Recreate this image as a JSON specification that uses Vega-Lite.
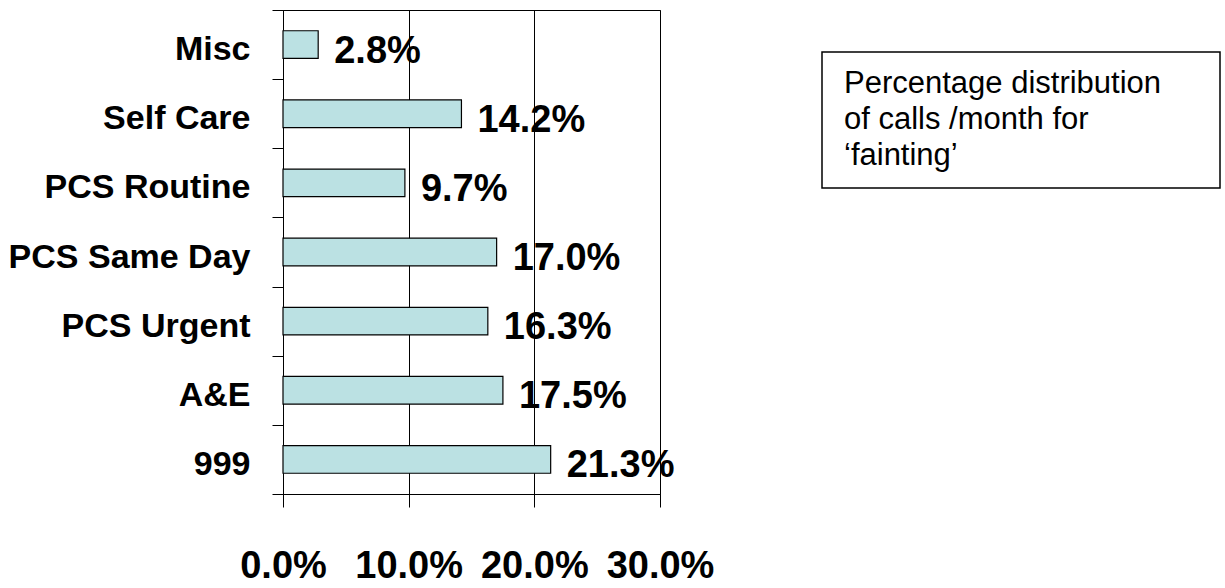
{
  "$schema": "https://vega.github.io/schema/vega-lite/v6.json",
  "background": "white",
  "padding": {"left": 7, "top": -18, "right": 0, "bottom": 0},
  "config": {
    "font": "Liberation Sans",
    "view": {"stroke": "black", "strokeWidth": 1}
  },
  "bounds": "flush",
  "spacing": 162,
  "hconcat": [
    {
      "width": 377,
      "height": 484,
      "data": {
        "values": [
          {"category": "Misc", "share": 0.028},
          {"category": "Self Care", "share": 0.142},
          {"category": "PCS Routine", "share": 0.097},
          {"category": "PCS Same Day", "share": 0.170},
          {"category": "PCS Urgent", "share": 0.163},
          {"category": "A&E", "share": 0.175},
          {"category": "999", "share": 0.213}
        ]
      },
      "encoding": {
        "y": {
          "field": "category",
          "type": "nominal",
          "sort": null,
          "scale": {"paddingInner": 0, "paddingOuter": 0},
          "axis": {
            "title": null,
            "tickBand": "extent",
            "tickSize": 11,
            "tickColor": "black",
            "domainColor": "black",
            "labelFontSize": 34,
            "labelFontWeight": "bold",
            "labelColor": "black",
            "labelPadding": 22,
            "labelBaseline": "alphabetic",
            "labelOffset": 15,
            "labelLimit": 500,
            "grid": false
          }
        },
        "x": {
          "field": "share",
          "type": "quantitative",
          "scale": {"domain": [0, 0.3], "nice": false},
          "axis": {
            "title": null,
            "values": [0, 0.1, 0.2, 0.3],
            "format": ".1%",
            "grid": true,
            "gridColor": "black",
            "gridOpacity": 1,
            "tickSize": 13,
            "tickColor": "black",
            "domainColor": "black",
            "labelFontSize": 38,
            "labelFontWeight": "bold",
            "labelColor": "black",
            "labelPadding": 40,
            "labelFlush": false,
            "labelOverlap": false
          }
        }
      },
      "layer": [
        {"mark": {"type": "bar", "height": {"band": 0.4}, "fill": "#BBE1E3", "stroke": "black", "strokeWidth": 1.2}},
        {
          "mark": {"type": "text", "align": "left", "baseline": "alphabetic", "dx": 16, "dy": 18, "fontSize": 38, "fontWeight": "bold", "color": "black"},
          "encoding": {"text": {"field": "share", "format": ".1%"}}
        }
      ]
    },
    {
      "spacing": 0,
      "bounds": "flush",
      "vconcat": [
        {
          "width": 398,
          "height": 42,
          "view": {"stroke": null},
          "data": {"values": []},
          "mark": "point"
        },
        {
          "width": 398,
          "height": 136,
          "view": {"stroke": "black", "strokeWidth": 1.5},
          "data": {
            "values": [
              {"line": 1, "text": "Percentage distribution"},
              {"line": 2, "text": "of calls /month for"},
              {"line": 3, "text": "‘fainting’"}
            ]
          },
          "mark": {"type": "text", "align": "left", "baseline": "alphabetic", "dx": 22, "dy": 9, "fontSize": 31, "color": "black"},
          "encoding": {
            "x": {"datum": 0, "type": "quantitative", "scale": {"domain": [0, 1]}, "axis": null},
            "y": {"field": "line", "type": "ordinal", "scale": {"type": "point", "padding": 0.889}, "axis": null},
            "text": {"field": "text"}
          }
        }
      ]
    }
  ]
}
